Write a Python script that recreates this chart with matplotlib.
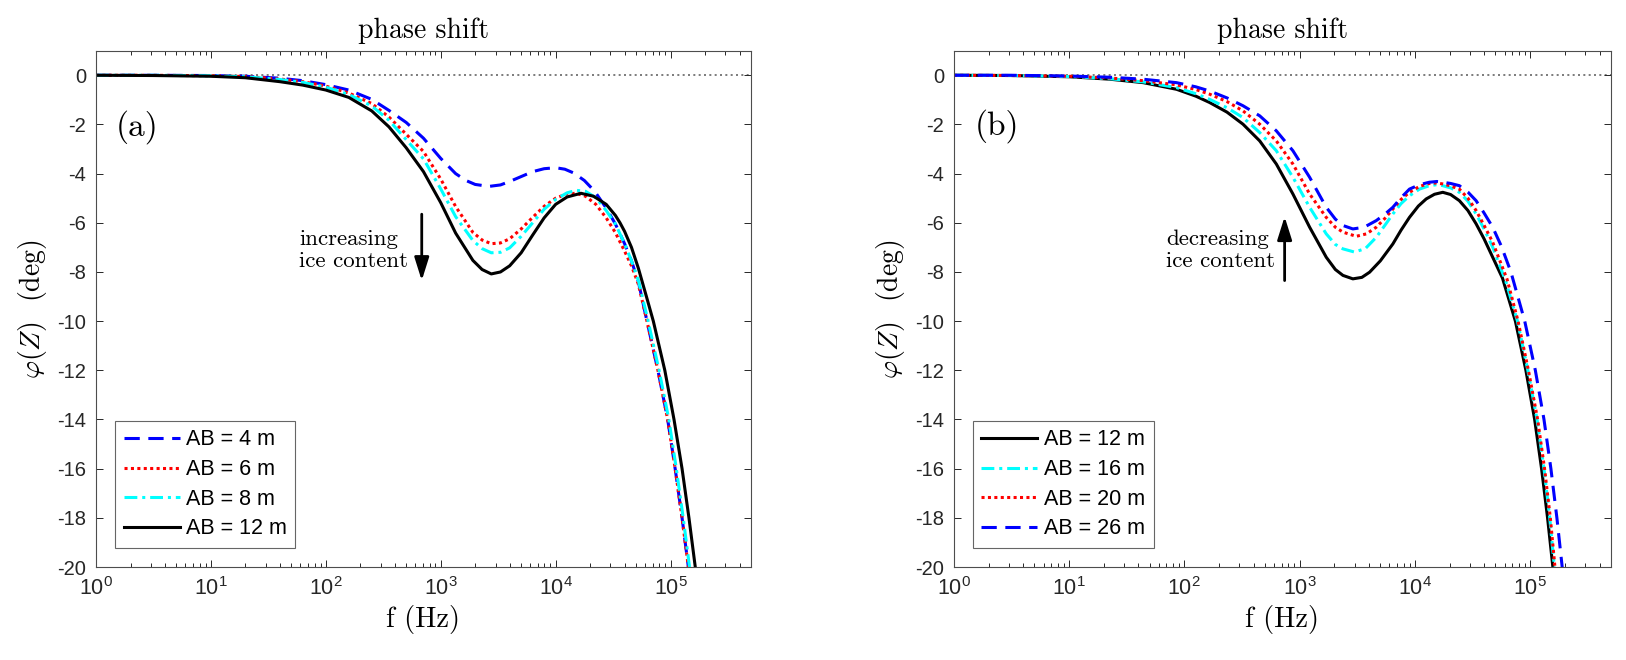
import numpy as np
import matplotlib
matplotlib.use('Agg')
import matplotlib.pyplot as plt
from matplotlib.ticker import LogLocator, LogFormatterMathtext, NullFormatter, FixedLocator

plt.rcParams['font.family'] = ['Liberation Sans', 'DejaVu Sans']
plt.rcParams['mathtext.fontset'] = 'cm'
plt.rcParams['axes.unicode_minus'] = False

# ---- pannello (a): log10(f) e fase (deg) ----
a_logf_4 = [0.0, 0.5, 1.0, 1.3, 1.6, 1.8, 2.0, 2.2, 2.4, 2.55, 2.7, 2.85, 3.0, 3.13, 3.22, 3.3,
            3.42, 3.52, 3.6, 3.7, 3.8, 3.9, 4.0, 4.08, 4.16, 4.25, 4.34, 4.44, 4.52, 4.6, 4.66,
            4.72, 4.79, 4.89, 4.975, 5.04, 5.10, 5.155, 5.18]
a_phi_4 = [0.0, 0.0, -0.01, -0.04, -0.12, -0.22, -0.38, -0.60, -0.98, -1.43, -1.92, -2.56, -3.38,
           -4.00, -4.28, -4.44, -4.52, -4.46, -4.32, -4.12, -3.92, -3.80, -3.76, -3.82, -3.98,
           -4.28, -4.72, -5.40, -6.05, -6.85, -7.55, -8.40, -9.90, -12.0, -14.0, -16.0, -18.0,
           -20.0, -21.0]

a_logf_6 = [0.0, 0.5, 1.0, 1.3, 1.6, 1.8, 2.0, 2.2, 2.4, 2.55, 2.7, 2.85, 3.0, 3.13, 3.28, 3.36,
            3.44, 3.52, 3.6, 3.7, 3.8, 3.9, 4.0, 4.1, 4.18, 4.26, 4.35, 4.44, 4.52, 4.6, 4.66,
            4.72, 4.79, 4.89, 4.975, 5.04, 5.10, 5.155, 5.18]
a_phi_6 = [0.0, 0.0, -0.02, -0.05, -0.15, -0.26, -0.44, -0.72, -1.15, -1.70, -2.40, -3.10, -4.22,
           -5.34, -6.39, -6.70, -6.85, -6.82, -6.65, -6.25, -5.78, -5.33, -5.00, -4.82, -4.80,
           -4.92, -5.25, -5.80, -6.40, -7.15, -7.75, -8.50, -9.90, -12.0, -14.0, -16.0, -18.0,
           -20.0, -21.0]

a_logf_8 = [0.0, 0.5, 1.0, 1.3, 1.6, 1.8, 2.0, 2.2, 2.4, 2.55, 2.7, 2.85, 3.0, 3.13, 3.28, 3.36,
            3.44, 3.52, 3.6, 3.7, 3.8, 3.9, 4.0, 4.1, 4.18, 4.26, 4.35, 4.44, 4.52, 4.6, 4.66,
            4.72, 4.80, 4.90, 4.985, 5.05, 5.11, 5.165, 5.19]
a_phi_8 = [0.0, 0.0, -0.02, -0.06, -0.17, -0.29, -0.48, -0.78, -1.25, -1.83, -2.62, -3.40, -4.62,
           -5.75, -6.72, -7.05, -7.22, -7.20, -7.02, -6.55, -6.00, -5.45, -5.05, -4.78, -4.68,
           -4.72, -4.98, -5.50, -6.05, -6.85, -7.55, -8.35, -9.90, -12.0, -14.0, -16.0, -18.0,
           -20.0, -21.0]

a_logf_12 = [0.0, 0.5, 1.0, 1.3, 1.6, 1.8, 2.0, 2.2, 2.4, 2.55, 2.7, 2.85, 3.0, 3.13, 3.28, 3.36,
             3.44, 3.52, 3.6, 3.7, 3.8, 3.9, 4.0, 4.1, 4.22, 4.33, 4.44, 4.52, 4.56, 4.6, 4.66,
             4.72, 4.79, 4.85, 4.95, 5.03, 5.10, 5.16, 5.215, 5.24]
a_phi_12 = [0.0, -0.01, -0.04, -0.10, -0.26, -0.40, -0.60, -0.90, -1.45, -2.10, -2.95, -3.92,
            -5.18, -6.42, -7.53, -7.90, -8.08, -8.00, -7.75, -7.22, -6.50, -5.80, -5.25, -4.95,
            -4.80, -4.92, -5.25, -5.70, -6.00, -6.35, -7.00, -7.85, -9.00, -10.0, -12.0, -14.0,
            -16.0, -18.0, -20.0, -21.0]

# ---- pannello (b) ----
b_logf_12 = [0.0, 0.5, 1.0, 1.354, 1.643, 1.932, 2.1, 2.22, 2.37, 2.509, 2.654, 2.798, 2.942,
             3.087, 3.231, 3.31, 3.376, 3.462, 3.54, 3.607, 3.7, 3.809, 3.88, 3.953, 4.03,
             4.098, 4.17, 4.242, 4.31, 4.386, 4.46, 4.531, 4.6, 4.675, 4.76, 4.872, 4.963,
             5.039, 5.099, 5.151, 5.197, 5.22]
b_phi_12 = [0.0, -0.01, -0.06, -0.16, -0.30, -0.57, -0.85, -1.11, -1.50, -1.99, -2.67, -3.61,
            -4.83, -6.18, -7.40, -7.90, -8.14, -8.28, -8.22, -8.01, -7.55, -6.86, -6.30, -5.78,
            -5.32, -5.03, -4.84, -4.76, -4.85, -5.10, -5.50, -6.04, -6.65, -7.40, -8.25, -10.0,
            -12.0, -14.0, -16.0, -18.0, -20.0, -21.0]

b_logf_16 = [0.0, 0.5, 1.0, 1.354, 1.643, 1.932, 2.1, 2.22, 2.37, 2.509, 2.654, 2.798, 2.942,
             3.087, 3.231, 3.31, 3.376, 3.476, 3.57, 3.665, 3.74, 3.809, 3.88, 3.953, 4.04,
             4.126, 4.19, 4.242, 4.31, 4.386, 4.46, 4.531, 4.6, 4.675, 4.79, 4.89, 4.98, 5.06,
             5.12, 5.17, 5.21, 5.235]
b_phi_16 = [0.0, -0.01, -0.05, -0.14, -0.27, -0.50, -0.75, -0.98, -1.32, -1.72, -2.33, -3.07,
            -4.15, -5.37, -6.45, -6.88, -7.06, -7.19, -7.05, -6.59, -6.10, -5.64, -5.22, -4.90,
            -4.63, -4.49, -4.45, -4.49, -4.58, -4.76, -5.12, -5.64, -6.25, -6.99, -8.40, -10.0,
            -12.0, -14.0, -16.0, -18.0, -20.0, -21.0]

b_logf_20 = [0.0, 0.5, 1.0, 1.354, 1.643, 1.932, 2.1, 2.22, 2.37, 2.509, 2.654, 2.798, 2.942,
             3.087, 3.231, 3.31, 3.376, 3.491, 3.58, 3.665, 3.74, 3.809, 3.88, 3.953, 4.04,
             4.126, 4.19, 4.242, 4.31, 4.386, 4.46, 4.531, 4.6, 4.675, 4.80, 4.895, 4.985, 5.065,
             5.125, 5.175, 5.215, 5.24]
b_phi_20 = [0.0, -0.01, -0.04, -0.11, -0.22, -0.39, -0.58, -0.77, -1.07, -1.45, -1.99, -2.67,
            -3.61, -4.83, -5.78, -6.18, -6.38, -6.55, -6.45, -6.18, -5.82, -5.44, -5.05, -4.76,
            -4.52, -4.40, -4.38, -4.42, -4.50, -4.63, -5.00, -5.50, -6.10, -6.79, -8.30, -10.0,
            -12.0, -14.0, -16.0, -18.0, -20.0, -21.0]

b_logf_26 = [0.0, 0.5, 1.0, 1.354, 1.643, 1.932, 2.1, 2.22, 2.37, 2.509, 2.654, 2.798, 2.942,
             3.087, 3.231, 3.31, 3.376, 3.462, 3.56, 3.665, 3.74, 3.809, 3.88, 3.953, 4.04,
             4.126, 4.19, 4.242, 4.31, 4.386, 4.46, 4.531, 4.6, 4.675, 4.75, 4.833, 4.953,
             5.045, 5.12, 5.18, 5.232, 5.278, 5.30]
b_phi_26 = [0.0, 0.0, -0.03, -0.08, -0.16, -0.30, -0.47, -0.64, -0.92, -1.24, -1.65, -2.26,
            -3.07, -4.15, -5.37, -5.85, -6.11, -6.25, -6.18, -5.91, -5.65, -5.37, -4.98, -4.63,
            -4.45, -4.35, -4.32, -4.35, -4.40, -4.49, -4.75, -5.10, -5.60, -6.18, -6.95, -8.00,
            -10.0, -12.0, -14.0, -16.0, -18.0, -20.0, -21.0]

a_labels = ['AB = 4 m', 'AB = 6 m', 'AB = 8 m', 'AB = 12 m']
b_labels = ['AB = 12 m', 'AB = 16 m', 'AB = 20 m', 'AB = 26 m']

# stili delle linee
blue = dict(color=(0, 0, 1), dashes=(5.0, 2.8))
red = dict(color=(1, 0, 0), dashes=(1.0, 1.1))
cyan = dict(color=(0, 1, 1), dashes=(4.2, 1.6, 1.0, 1.6))
black = dict(color='k', ls='-')

LW = 2.2
TXT = 'cmr10'
GREY = (0.15, 0.15, 0.15)


def style_axes(ax):
    '''assi in stile MATLAB'''
    ax.set_xscale('log')
    ax.set_xlim(1, 5e5)
    ax.set_ylim(-20, 1)
    ax.set_yticks(np.arange(-20, 1, 2))
    ax.set_yticklabels([str(v) for v in np.arange(-20, 1, 2)])
    ax.xaxis.set_major_locator(FixedLocator([1, 10, 100, 1e3, 1e4, 1e5]))
    ax.xaxis.set_major_formatter(LogFormatterMathtext())
    ax.xaxis.set_minor_locator(LogLocator(base=10, subs=np.arange(2, 10), numticks=20))
    ax.xaxis.set_minor_formatter(NullFormatter())
    ax.tick_params(which='both', direction='in', top=True, right=True, color=GREY,
                   labelcolor=GREY, width=0.7)
    ax.tick_params(which='major', length=5, labelsize=14.5, pad=7)
    ax.tick_params(which='minor', length=2.6)
    ax.tick_params(axis='x', labelsize=15.5)
    for s in ax.spines.values():
        s.set_color((0.3, 0.3, 0.3))
        s.set_linewidth(0.8)
    ax.axhline(0, color=(0.4, 0.4, 0.4), lw=1.2, dashes=(1.2, 2.0), zorder=0)
    ax.set_title('phase shift', fontfamily=TXT, fontsize=20, pad=9)
    ax.set_xlabel('f (Hz)', fontfamily=TXT, fontsize=20.5, labelpad=4)
    ax.set_ylabel(r'$\varphi(Z)$  (deg)', fontfamily=TXT, fontsize=20, labelpad=6)


def legend(ax):
    leg = ax.legend(loc='lower left', bbox_to_anchor=(0.029, 0.037), borderaxespad=0,
                    fontsize=15.5, handlelength=2.6, handletextpad=0.3, borderpad=0.4,
                    labelspacing=0.4, fancybox=False, framealpha=1)
    leg.get_frame().set_edgecolor((0.4, 0.4, 0.4))
    leg.get_frame().set_linewidth(0.8)


fig = plt.figure(figsize=(16.26, 6.6), dpi=100)
ax1 = fig.add_axes([0.0590, 0.1409, 0.4028, 0.7823])
ax2 = fig.add_axes([0.5866, 0.1409, 0.4040, 0.7823])

# pannello (a)
ax1.plot(10 ** np.array(a_logf_4), a_phi_4, lw=LW, label=a_labels[0], **blue)
ax1.plot(10 ** np.array(a_logf_6), a_phi_6, lw=LW, label=a_labels[1], **red)
ax1.plot(10 ** np.array(a_logf_8), a_phi_8, lw=LW, label=a_labels[2], **cyan)
ax1.plot(10 ** np.array(a_logf_12), a_phi_12, lw=LW, label=a_labels[3], **black)
style_axes(ax1)
legend(ax1)
ax1.text(10 ** 0.356, -2.1, '(a)', fontfamily=TXT, fontsize=24, ha='center', va='center')
ax1.text(10 ** 1.767, -7.1, 'increasing\nice content', fontfamily=TXT, fontsize=16.5,
         ha='left', va='center', linespacing=1.15)
ax1.annotate('', xy=(10 ** 2.835, -8.35), xytext=(10 ** 2.835, -5.65),
             arrowprops=dict(arrowstyle='-|>,head_length=0.7,head_width=0.22', color='k',
                             lw=2, mutation_scale=20, shrinkA=0, shrinkB=0))

# pannello (b)
ax2.plot(10 ** np.array(b_logf_12), b_phi_12, lw=LW, label=b_labels[0], **black)
ax2.plot(10 ** np.array(b_logf_16), b_phi_16, lw=LW, label=b_labels[1], **cyan)
ax2.plot(10 ** np.array(b_logf_20), b_phi_20, lw=LW, label=b_labels[2], **red)
ax2.plot(10 ** np.array(b_logf_26), b_phi_26, lw=LW, label=b_labels[3], **blue)
style_axes(ax2)
legend(ax2)
ax2.text(10 ** 0.374, -2.06, '(b)', fontfamily=TXT, fontsize=24, ha='center', va='center')
ax2.text(10 ** 1.839, -7.1, 'decreasing\nice content', fontfamily=TXT, fontsize=16.5,
         ha='left', va='center', linespacing=1.15)
ax2.annotate('', xy=(10 ** 2.87, -5.75), xytext=(10 ** 2.87, -8.35),
             arrowprops=dict(arrowstyle='-|>,head_length=0.7,head_width=0.22', color='k',
                             lw=2, mutation_scale=20, shrinkA=0, shrinkB=0))

fig.savefig('out.png', dpi=100)
